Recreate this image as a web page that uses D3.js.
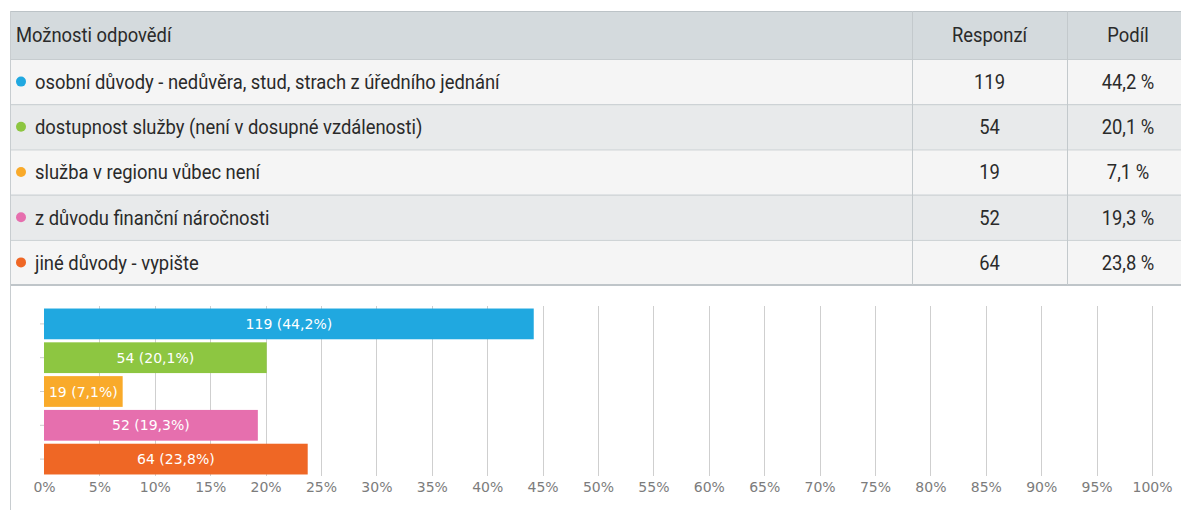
<!DOCTYPE html>
<html><head><meta charset="utf-8">
<script src="https://cdn.jsdelivr.net/npm/d3@7"></script>
<style>html,body{margin:0;padding:0;background:#fff;}svg{display:block;}</style>
</head><body>
<svg id="c" width="1181" height="510"></svg>
<script>
const categories = [
  "osobní důvody - nedůvěra, stud, strach z úředního jednání",
  "dostupnost služby (není v dosupné vzdálenosti)",
  "služba v regionu vůbec není",
  "z důvodu finanční náročnosti",
  "jiné důvody - vypište"
];
const counts = [119, 54, 19, 52, 64];
const shares = [44.2, 20.1, 7.1, 19.3, 23.8];
const colors = ["#20a8e0", "#8dc641", "#f9aa2a", "#e66fae", "#ef6725"];
const headers = ["Možnosti odpovědí", "Responzí", "Podíl"];
const xTicks = d3.range(0, 101, 5);

const svg = d3.select("#c");
const tableFont = "Roboto, sans-serif";
const chartFont = "'DejaVu Sans', sans-serif";
const TS = 21, SX = 0.875;

function ttext(sel, x, y, anchor, str) {
  const g = sel.append("g").attr("transform", `translate(${x},${y}) scale(${SX},1)`);
  g.append("text").attr("x", 0).attr("y", 0).attr("dy", "0.35em").attr("text-anchor", anchor)
    .attr("font-family", tableFont).attr("font-size", TS).attr("fill", "#2a2a2a").text(str);
  return g;
}

// ---- table ----
const tx0 = 10, tx1 = 1200, col1 = 912, col2 = 1067;
const headTop = 11, headBot = 59, rowH = 45.2;
const rowY = d3.scaleBand().domain(d3.range(categories.length)).range([headBot, headBot + rowH * categories.length]);

svg.append("rect").attr("x", tx0).attr("y", headTop).attr("width", tx1 - tx0).attr("height", headBot - headTop)
  .attr("fill", "#d4dadd");
svg.selectAll("rect.row").data(categories).join("rect").attr("class", "row")
  .attr("x", tx0).attr("y", (d, i) => rowY(i)).attr("width", tx1 - tx0).attr("height", rowY.bandwidth())
  .attr("fill", (d, i) => i % 2 === 0 ? "#f5f5f5" : "#e8eaeb");
const hLines = [headTop, headBot].concat(d3.range(1, categories.length).map(i => rowY(i)));
svg.selectAll("line.h").data(hLines).join("line").attr("class", "h")
  .attr("x1", tx0).attr("x2", tx1).attr("y1", d => d + 0.5).attr("y2", d => d + 0.5)
  .attr("stroke", (d, i) => i === 0 ? "#bcc3c7" : "#c6cccf").attr("stroke-width", 1);
const tableBottom = headBot + rowH * categories.length;
svg.append("line").attr("x1", tx0).attr("x2", tx1).attr("y1", tableBottom).attr("y2", tableBottom)
  .attr("stroke", "#bfc5c9").attr("stroke-width", 2);
[col1, col2].forEach(x => svg.append("line").attr("x1", x + 0.5).attr("x2", x + 0.5)
  .attr("y1", headTop).attr("y2", tableBottom).attr("stroke", "#c3c9cc"));
svg.append("line").attr("x1", tx0 + 0.5).attr("x2", tx0 + 0.5).attr("y1", headTop).attr("y2", 510)
  .attr("stroke", "#c8cdd0");

const hy = (headTop + headBot) / 2;
ttext(svg, 16, hy, "start", headers[0]);
ttext(svg, (col1 + col2) / 2, hy, "middle", headers[1]);
ttext(svg, 1128, hy, "middle", headers[2]);

categories.forEach((c, i) => {
  const cy = rowY(i) + rowY.bandwidth() / 2;
  svg.append("circle").attr("cx", 21).attr("cy", cy).attr("r", 5).attr("fill", colors[i]);
  ttext(svg, 35, cy, "start", c);
  ttext(svg, (col1 + col2) / 2, cy, "middle", counts[i]);
  ttext(svg, 1128, cy, "middle", String(shares[i]).replace(".", ",") + " %");
});

// ---- chart ----
const x = d3.scaleLinear().domain([0, 100]).range([44, 1152]);
const y = d3.scaleBand().domain(categories).range([307, 476]).paddingInner(0.09).paddingOuter(0.045);
const gTop = 306, gBot = 476;

svg.append("g").selectAll("line").data(xTicks.filter(t => t > 0)).join("line")
  .attr("x1", d => Math.round(x(d)) + 0.5).attr("x2", d => Math.round(x(d)) + 0.5)
  .attr("y1", gTop).attr("y2", gBot).attr("stroke", "#cfcfcf").attr("stroke-width", 1);

const xAxis = d3.axisBottom(x).tickValues(xTicks).tickSize(0).tickPadding(0).tickFormat(d => d + "%");
const ax = svg.append("g").attr("transform", `translate(0,${gBot + 6})`).call(xAxis);
ax.select(".domain").remove();
ax.selectAll("text").attr("font-family", chartFont).attr("font-size", 14).attr("fill", "#7c7c7c");

const yAxis = d3.axisLeft(y).tickSize(4).tickFormat("");
const ay = svg.append("g").attr("transform", `translate(44,0)`).call(yAxis);
ay.select(".domain").remove();
ay.selectAll("line").attr("stroke", "#cccccc");

svg.append("g").selectAll("rect").data(categories).join("rect")
  .attr("x", x(0)).attr("y", d => y(d)).attr("width", (d, i) => x(shares[i]) - x(0)).attr("height", y.bandwidth())
  .attr("fill", (d, i) => colors[i]);

svg.append("g").selectAll("text").data(categories).join("text")
  .attr("x", (d, i) => (x(0) + x(shares[i])) / 2).attr("y", d => y(d) + y.bandwidth() / 2).attr("dy", "0.36em")
  .attr("text-anchor", "middle").attr("font-family", chartFont).attr("font-size", 14).attr("fill", "#ffffff")
  .text((d, i) => `${counts[i]} (${String(shares[i]).replace(".", ",")}%)`);
</script>
</body></html>
